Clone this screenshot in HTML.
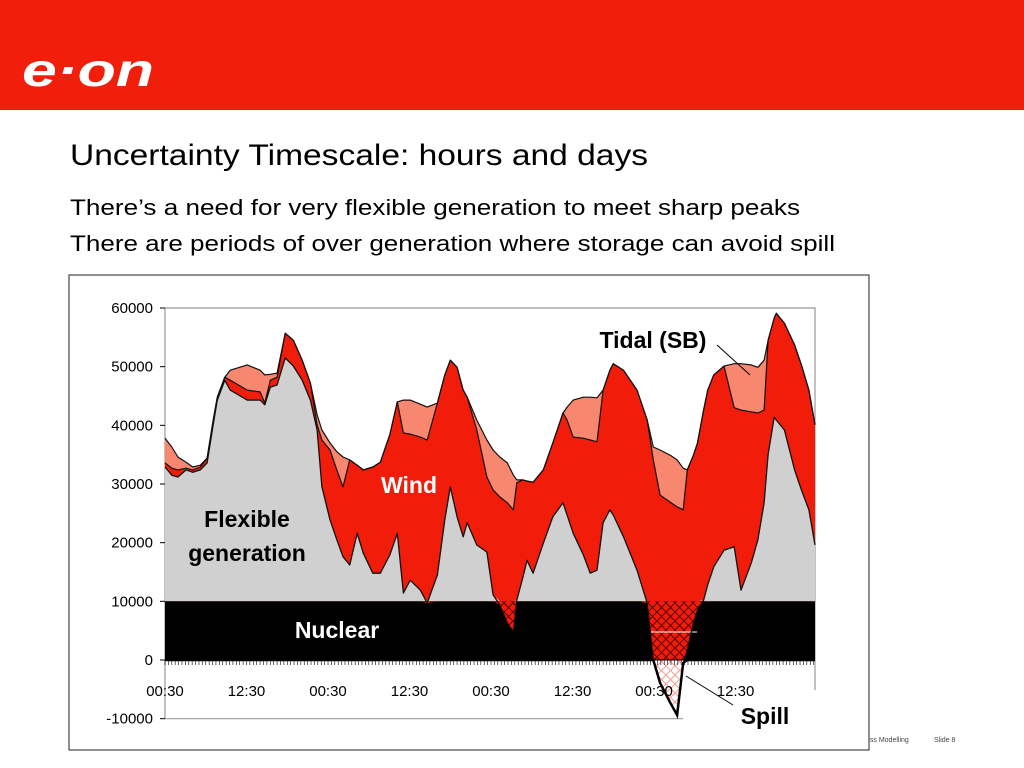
<!DOCTYPE html>
<html><head><meta charset="utf-8"><style>
html,body{margin:0;padding:0;background:#fff;}
svg{display:block;font-family:"Liberation Sans",sans-serif;}
</style></head><body>
<svg id="slide" width="1024" height="768" viewBox="0 0 1024 768" xmlns="http://www.w3.org/2000/svg">
<defs>
<pattern id="hatchRed" patternUnits="userSpaceOnUse" width="9" height="9">
<rect width="9" height="9" fill="#f21c0a"/>
<path d="M0,0 L9,9 M9,0 L0,9" stroke="#5a0000" stroke-width="1"/>
</pattern>
<pattern id="hatchPink" patternUnits="userSpaceOnUse" width="9" height="9">
<rect width="9" height="9" fill="#fff"/>
<path d="M0,0 L9,9 M9,0 L0,9" stroke="#f4a09a" stroke-width="1"/>
</pattern>
</defs>
<rect x="0" y="0" width="1024" height="110" fill="#f01e0a"/>
<text x="22" y="86" font-size="46" font-weight="bold" font-style="italic" fill="#fff" textLength="132" lengthAdjust="spacingAndGlyphs">e·on</text>
<text x="70" y="165" font-size="30" fill="#000" textLength="578" lengthAdjust="spacingAndGlyphs">Uncertainty Timescale: hours and days</text>
<text x="70" y="215" font-size="22" fill="#000" textLength="730" lengthAdjust="spacingAndGlyphs">There’s a need for very flexible generation to meet sharp peaks</text>
<text x="70" y="251" font-size="22" fill="#000" textLength="765" lengthAdjust="spacingAndGlyphs">There are periods of over generation where storage can avoid spill</text>
<text x="866" y="742" font-size="7" fill="#444">ess Modelling</text>
<text x="934" y="742" font-size="7" fill="#444">Slide 8</text>
<rect x="69" y="275" width="800" height="475" fill="#fff" stroke="#222" stroke-width="1"/>
<g id="chart"></g>
</svg>
<script>
const hours=[0,1.0,1.9,3.1,4.1,5.2,6.2,7.1,7.7,8.8,9.6,12.1,14.0,14.7,15.5,16.5,17.7,18.9,20.2,21.4,22.4,23.1,24.3,25.3,26.2,27.2,28.3,29.2,30.6,31.7,33.1,34.2,35.1,36.1,37.6,38.6,40.1,41.2,42.0,43.0,43.9,44.5,45.9,47.4,48.3,49.3,50.4,51.3,51.8,52.7,53.3,54.2,55.7,57.1,58.6,59.2,60.1,61.6,62.6,63.6,64.5,65.5,66.0,67.5,69.5,71.0,71.9,72.9,74.4,75.4,76.3,76.9,77.8,78.4,79.3,79.9,80.8,82.3,83.8,84.8,86.3,87.3,88.2,88.8,89.7,90.0,91.2,92.7,93.7,94.8,95.7];
const totalTop=[37800,36300,34600,33700,32900,33200,34400,40900,44800,48200,49400,50300,49400,48600,48700,48900,55700,54500,51100,47200,41800,39200,37000,35500,34600,34100,33200,32400,32900,33700,38400,44000,44300,44300,43600,43100,43800,48600,51100,49900,46000,44800,40900,37500,35800,34600,33600,31500,30700,30700,30500,30300,32400,37000,42100,43100,44300,44800,44800,44700,46000,49400,50500,49400,46000,40900,36300,35800,34900,34100,32700,32400,34900,37000,42600,46000,48600,50100,50500,50500,50300,49900,51100,54500,58300,59100,57400,53700,50300,46000,40100];
const windTop=[33600,32700,32400,32700,32400,32900,34400,40900,44800,48200,47700,46000,45700,43800,47700,48200,55700,54500,51100,47200,40100,37500,35800,32400,29500,34100,33200,32400,32900,33700,38400,44000,38700,38500,38000,37500,43800,48600,51100,49900,46000,44800,39200,31200,29000,27800,26800,25600,30200,30700,30500,30300,32400,37000,42100,40900,38000,37800,37500,37200,46000,49400,50500,49400,46000,40900,34100,28100,26900,26100,25600,32400,34900,37000,42600,46000,48600,50100,43000,42600,42300,42100,42600,54500,58300,59100,57400,53700,50300,46000,40100];
const flexTop=[32900,31500,31200,32400,32000,32400,33600,40100,44300,47700,46000,44300,44300,43500,46500,46900,51500,50100,47700,44300,39200,29500,23900,20500,17600,16200,21600,18200,14800,14800,17900,21600,11400,13600,11900,9700,14500,23900,29500,24400,21000,23400,19600,18400,11100,9400,6300,4800,10200,14100,17000,14800,19900,24400,26800,24700,21600,17900,14800,15300,23400,25600,24700,21000,15300,9700,0,-3900,-7300,-9400,-500,1700,6300,8500,10200,12800,15900,18700,19300,11900,16500,20500,26800,35000,41400,40900,39200,32400,29000,25600,19600];
const yTicks=[60000,50000,40000,30000,20000,10000,0,-10000];
const xTickHours=[0,12,24,36,48,60,72,84];
const xTickLabels=["00:30","12:30","00:30","12:30","00:30","12:30","00:30","12:30"];
const nuclearLevel=10000;

const NS="http://www.w3.org/2000/svg";
const X0=165,X1=815,HMAX=95.7;
const xs=h=>X0+(h/HMAX)*(X1-X0);
const ys=v=>660-(v/60000)*352;
const g=document.getElementById('chart');
function mk(tag,attrs,parent){const e=document.createElementNS(NS,tag);for(const k in attrs)e.setAttribute(k,attrs[k]);(parent||g).appendChild(e);return e;}
function areaPath(top,bottom){
  let d='';
  top.forEach((v,i)=>{d+=(i?'L':'M')+xs(hours[i]).toFixed(1)+','+ys(v).toFixed(1);});
  for(let i=bottom.length-1;i>=0;i--)d+='L'+xs(hours[i]).toFixed(1)+','+ys(bottom[i]).toFixed(1);
  return d+'Z';
}
function linePath(arr){let d='';arr.forEach((v,i)=>{d+=(i?'L':'M')+xs(hours[i]).toFixed(1)+','+ys(v).toFixed(1);});return d;}
const zeros=hours.map(()=>0);
const nucArr=hours.map(()=>nuclearLevel);

// plot border
const border=mk('path',{d:`M${X0},${ys(60000)} L${X1},${ys(60000)} L${X1},690 M${X0},${ys(60000)} L${X0},${ys(-10000)} L683,${ys(-10000)}`,fill:'none',stroke:'#999','stroke-width':1.2});



const tidal=mk('path',{d:areaPath(totalTop,nucArr),fill:'#f7876e'});


const wind=mk('path',{d:areaPath(windTop,nucArr),fill:'#f21c0a'});


const flexClamp=flexTop.map(v=>Math.max(v,nuclearLevel));
const flex=mk('path',{d:areaPath(flexClamp,nucArr),fill:'#d0d0d0'});


const nuc=mk('path',{d:areaPath(nucArr,zeros),fill:'#000'});


const spillPos=mk('path',{d:areaPath(nucArr,flexTop.map(v=>Math.min(nuclearLevel,Math.max(v,0)))),fill:'url(#hatchRed)'});


const spillNeg=mk('path',{d:areaPath(zeros,flexTop.map(v=>Math.min(v,0))),fill:'url(#hatchPink)'});


const wl=mk('line',{x1:651,y1:632,x2:697,y2:632,stroke:'#fff','stroke-width':1});



[[totalTop,'tidal-outline',1.2],[windTop,'wind-outline',1.2],[flexTop,'flexible-outline',1.3]].forEach(([a,n,w])=>{
  const p=mk('path',{d:linePath(a),fill:'none',stroke:'#111','stroke-width':w,'stroke-linejoin':'round'});
  
  
});
// thick spill outline below zero
const negLine=mk('path',{d:linePath(flexTop.map(v=>Math.min(v,0))),fill:'none',stroke:'#000','stroke-width':2.5});



// y axis
yTicks.forEach(v=>{
  const t=mk('line',{x1:X0-5,x2:X0,y1:ys(v),y2:ys(v),stroke:'#000','stroke-width':1});
  
  
  const l=mk('text',{x:153,y:ys(v)+5,'text-anchor':'end','font-size':15,fill:'#000'});
  l.textContent=String(v);
  
  
});
// x axis line & ticks
const xa=mk('line',{x1:X0,x2:X1,y1:ys(0),y2:ys(0),stroke:'#000','stroke-width':1});


for(let h=0;h<=HMAX;h+=0.5){
  const t=mk('line',{x1:xs(h),x2:xs(h),y1:ys(0),y2:ys(0)+5,stroke:'#000','stroke-width':0.6});
  
  
}
xTickHours.forEach((h,i)=>{
  const l=mk('text',{x:xs(h),y:696,'text-anchor':'middle','font-size':15,fill:'#000'});
  l.textContent=xTickLabels[i];
  
  
});
// annotations
function lab(txt,x,y,size,color,name,anchor){
  const t=mk('text',{x:x,y:y,'font-size':size,'font-weight':'bold',fill:color,'text-anchor':anchor||'middle'});
  t.textContent=txt;
  
  
}
lab('Tidal (SB)',653,348,23,'#000','tidal-label');
lab('Wind',409,493,23,'#fff','wind-label');
lab('Flexible',247,527,23,'#000','flexible-label-line1');
lab('generation',247,561,23,'#000','flexible-label-line2');
lab('Nuclear',337,638,23,'#fff','nuclear-label');
lab('Spill',765,724,23,'#000','spill-label');
const l1=mk('line',{x1:717,y1:345,x2:750,y2:375,stroke:'#000','stroke-width':1});


const l2=mk('line',{x1:686,y1:676,x2:733,y2:705,stroke:'#000','stroke-width':1});


</script>
</body></html>
